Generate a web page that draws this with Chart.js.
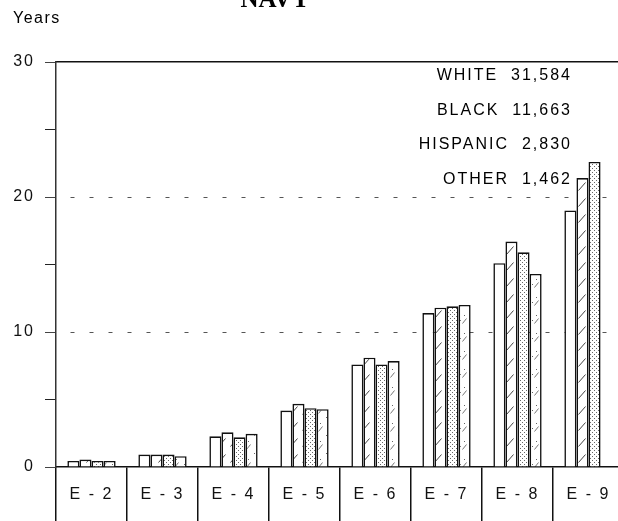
<!DOCTYPE html>
<html>
<head>
<meta charset="utf-8">
<script src="https://cdn.jsdelivr.net/npm/chart.js@4"></script>
<style>
html,body{margin:0;padding:0;background:#fff;overflow:hidden;width:618px;height:521px;}
canvas{display:block;}
</style>
</head>
<body>
<canvas id="c" width="640" height="521"></canvas>
<script>
// ---- data ----
const categories = ['E - 2','E - 3','E - 4','E - 5','E - 6','E - 7','E - 8','E - 9'];
const groups = ['WHITE','BLACK','HISPANIC','OTHER'];
const groupCounts = ['31,584','11,663','2,830','1,462'];
const white    = [0.45, 0.92, 2.27, 4.18, 7.6, 11.4, 15.1, 19.0];
const black    = [0.55, 0.92, 2.57, 4.68, 8.1, 11.8, 16.7, 21.4];
const hispanic = [0.45, 0.92, 2.2, 4.36, 7.6, 11.9, 15.9, 22.6];
const other    = [0.45, 0.8, 2.46, 4.28, 7.85, 12.0, 14.3, null];
const yTickLabels = [0, 10, 20, 30];
const chartTitle = 'NAVY';
const yTitle = 'Years';

// ---- fill patterns ----
function tile(w, h, draw) {
  const c = document.createElement('canvas');
  c.width = w; c.height = h;
  const g = c.getContext('2d');
  g.fillStyle = '#fff'; g.fillRect(0, 0, w, h);
  draw(g);
  return g.createPattern(c, 'repeat');
}
const fills = [
  '#ffffff',
  tile(12, 16, g => { g.strokeStyle = '#444'; g.lineWidth = 1; g.beginPath(); g.moveTo(2.5, 14.5); g.lineTo(9.5, 6.5); g.stroke(); }),
  tile(4, 4, g => { g.fillStyle = '#666'; g.fillRect(0, 0, 1, 1); g.fillRect(2, 2, 1, 1); }),
  tile(12, 18, g => { g.fillStyle = '#666'; g.fillRect(2, 3, 1, 1); g.fillRect(8, 9, 1, 1); g.fillRect(4, 14, 1, 1);
      g.strokeStyle = '#777'; g.lineWidth = 1; g.beginPath(); g.moveTo(6.5, 17.5); g.lineTo(10.5, 12.5); g.stroke(); })
];

const seriesValues = [white, black, hispanic, other];
const FONT = { family: '"Liberation Sans", Arial, Helvetica, sans-serif', size: 16 };

const spacingPlugin = {
  id: 'spacing',
  beforeUpdate(chart) { chart.ctx.letterSpacing = '2px'; },
  beforeDraw(chart) { chart.ctx.letterSpacing = '2px'; },
  afterDraw(chart) {
    const ctx = chart.ctx, a = chart.chartArea;
    ctx.save();
    // title (cut off by top edge as in the reference)
    ctx.letterSpacing = '0px';
    ctx.fillStyle = '#000';
    ctx.font = 'bold 25px "Liberation Serif", "Times New Roman", serif';
    ctx.textAlign = 'center';
    ctx.textBaseline = 'alphabetic';
    ctx.fillText(chartTitle, 275, 7);
    // y title
    ctx.letterSpacing = '1.5px';
    ctx.font = '16px "Liberation Sans", Arial, sans-serif';
    ctx.textAlign = 'left';
    ctx.textBaseline = 'middle';
    ctx.fillText(yTitle, 13, 19);
    // legend text
    ctx.letterSpacing = '2px';
    ctx.textAlign = 'right';
    const step = (a.bottom - a.top) / 30 * 2.55;
    groups.forEach((gname, i) => {
      ctx.fillText(gname + '  ' + groupCounts[i], a.right - 52, a.top + 14 + i * step);
    });
    ctx.restore();
  }
};

new Chart(document.getElementById('c'), {
  type: 'bar',
  data: {
    labels: categories,
    datasets: groups.map((g, i) => ({
      label: g,
      data: seriesValues[i],
      backgroundColor: fills[i],
      borderColor: '#111',
      borderWidth: 1.6,
      categoryPercentage: 0.68,
      barPercentage: 1.0
    }))
  },
  options: {
    responsive: false,
    animation: false,
    devicePixelRatio: 1,
    layout: { padding: { left: 0, top: 62, right: 16, bottom: 0 } },
    plugins: { legend: { display: false }, tooltip: { enabled: false }, title: { display: false } },
    scales: {
      x: {
        offset: true,
        grid: { offset: true, drawOnChartArea: false, tickLength: 54, color: '#111', lineWidth: 1.5 },
        border: { color: '#111', width: 1.5 },
        ticks: { padding: -36, font: FONT, color: '#111', maxRotation: 0, autoSkip: false },
        afterFit(s) { s.height = 54; }
      },
      xTop: {
        type: 'category',
        position: 'top',
        grid: { display: false },
        ticks: { display: false },
        border: { display: true, color: '#111', width: 1.5 },
        afterFit(s) { s.height = 0; }
      },
      y: {
        min: 0, max: 30,
        ticks: {
          stepSize: 5, padding: 10, font: FONT, color: '#111',
          callback: v => (yTickLabels.includes(v) ? String(v) : '')
        },
        grid: {
          color: c => (c.tick && (c.tick.value === 10 || c.tick.value === 20)) ? '#555' : 'rgba(0,0,0,0)',
          tickColor: c => (c.tick && c.tick.value % 10 === 0) ? '#444' : '#222',
          tickLength: 11,
          lineWidth: 1
        },
        border: { color: '#333', width: 1.5, dash: [4, 15], dashOffset: 5 },
        afterFit(s) { s.width = 56; }
      }
    }
  },
  plugins: [spacingPlugin]
});
</script>
</body>
</html>
